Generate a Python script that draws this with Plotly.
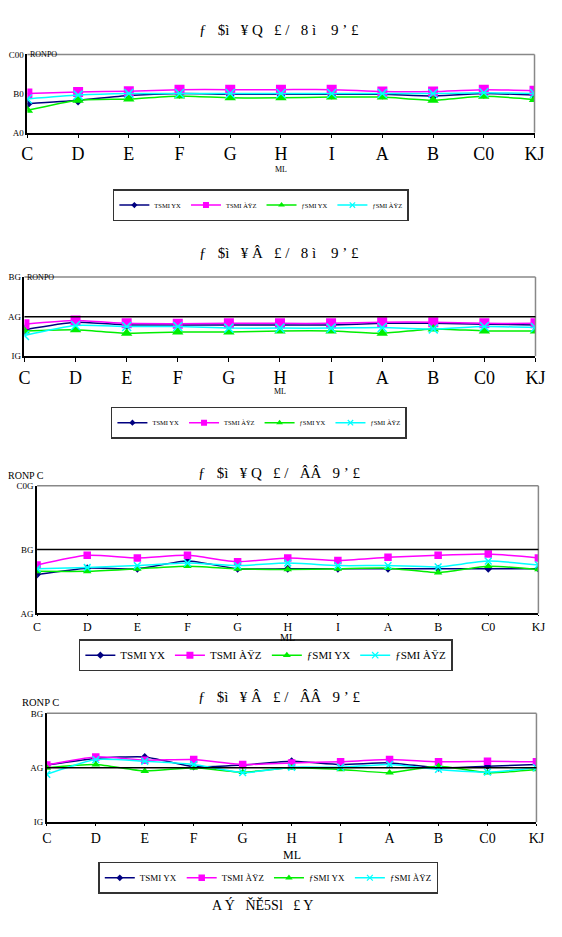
import plotly.graph_objects as go

W, H = 562, 937

categories = ["C", "D", "E", "F", "G", "H", "I", "A", "B", "C0", "KJ"]
series_names = ["TSMI YX", "TSMI ÀŸZ", "ƒSMI YX", "ƒSMI ÀŸZ"]

p1_s1 = [87.4, 88.3, 89.5, 90.0, 89.8, 89.8, 89.8, 89.8, 89.4, 90.0, 89.6]
p1_s2 = [90.0, 90.4, 90.6, 91.0, 91.0, 91.0, 91.0, 90.5, 90.5, 91.0, 90.7]
p1_s3 = [85.7, 88.3, 88.6, 89.4, 88.9, 88.9, 89.1, 89.1, 88.3, 89.3, 88.5]
p1_s4 = [88.6, 89.6, 90.0, 90.0, 90.0, 90.0, 90.0, 90.0, 90.0, 90.2, 90.0]

p2_s1 = [81.7, 83.6, 82.9, 82.9, 82.9, 82.9, 82.9, 83.3, 83.3, 83.1, 82.9]
p2_s2 = [83.1, 84.0, 83.3, 83.2, 83.3, 83.3, 83.3, 83.6, 83.6, 83.3, 83.3]
p2_s3 = [81.4, 81.7, 80.8, 81.1, 81.1, 81.4, 81.4, 80.8, 81.9, 81.4, 81.4]
p2_s4 = [80.25, 82.75, 82.5, 82.5, 82.1, 82.1, 82.1, 82.25, 81.9, 82.5, 82.25]

p3_s1 = [91.1, 92.1, 92.0, 93.2, 92.0, 92.0, 92.0, 92.0, 92.0, 92.0, 92.0]
p3_s2 = [92.6, 94.1, 93.7, 94.1, 93.1, 93.7, 93.3, 93.8, 94.1, 94.3, 93.7]
p3_s3 = [91.6, 91.6, 92.0, 92.4, 92.0, 91.9, 92.0, 92.1, 91.4, 92.4, 91.9]
p3_s4 = [92.0, 92.2, 92.5, 92.9, 92.5, 92.9, 92.5, 92.5, 92.3, 93.2, 92.6]

p4_s1 = [85.5, 86.7, 87.0, 85.2, 85.5, 86.2, 85.6, 85.9, 85.0, 85.3, 85.6]
p4_s2 = [85.5, 87.0, 86.4, 86.5, 85.6, 85.9, 86.1, 86.5, 86.1, 86.2, 86.1]
p4_s3 = [85.0, 85.6, 84.4, 85.0, 84.2, 85.0, 84.7, 84.1, 85.3, 84.1, 84.7]
p4_s4 = [83.8, 86.5, 86.2, 85.6, 84.1, 85.1, 85.1, 85.6, 84.7, 84.2, 85.0]

titles = ["ƒ   $ì   ¥ Q   £ /   8 ì    9 ʼ £",
          "ƒ   $ì   ¥ Â   £ /   8 ì    9 ʼ £",
          "ƒ   $ì   ¥ Q   £ /   ÂÂ   9 ʼ £",
          "ƒ   $ì   ¥ Â   £ /   ÂÂ   9 ʼ £"]
y_ticks = [[80, 90, 100], [75, 85, 95], [85, 95, 105], [75, 85, 95]]
y_ticktext = [["A0", "B0", "C00"], ["IG", "AG", "BG"], ["AG", "BG", "C0G"], ["IG", "AG", "BG"]]
ref_lines = [None, 85, 95, 85]
unit_labels = ["RONPO", "RONPO", "RONP C", "RONP C"]
x_title = "ML"
caption = "A Ý   ŇĚ5Sl   £ Y"

panels = [
    dict(data=[p1_s1, p1_s2, p1_s3, p1_s4], box=(22, 544, 50, 129), title_y=25,
         tick_font=18, ticklen=4, ms=1.0, xt_y=166, xt_font=8, leg=(186, 110), leg_font=6.5,
         unit=(24, 50, 8), lms=0.6),
    dict(data=[p2_s1, p2_s2, p2_s3, p2_s4], box=(19, 545, 275, 355), title_y=251,
         tick_font=18, ticklen=4, ms=1.0, xt_y=391, xt_font=8, leg=(406, 108), leg_font=6.5,
         unit=(21, 275, 8), lms=0.6),
    dict(data=[p3_s1, p3_s2, p3_s3, p3_s4], box=(32, 548, 486, 615), title_y=473,
         tick_font=12, ticklen=1, ms=0.75, xt_y=639, xt_font=10, leg=(641, 75), leg_font=11,
         unit=(1, 476, 10), lms=0.7),
    dict(data=[p4_s1, p4_s2, p4_s3, p4_s4], box=(42, 546, 716, 826), title_y=699,
         tick_font=14, ticklen=2, ms=0.75, xt_y=859, xt_font=12, leg=(866, 95), leg_font=9,
         unit=(15, 705, 10.5), lms=0.65),
]

colors = ["#000080", "#FF00FF", "#00EE00", "#00FFFF"]
symbols = ["diamond", "square", "triangle-up", "x-thin-open"]
base_sizes = [8, 10, 10, 9]

serif = "Liberation Serif"
fig = go.Figure()
annotations = []
shapes = []
layout_axes = {}

for i, p in enumerate(panels):
    k = "" if i == 0 else str(i + 1)
    xa, ya = "x" + k, "y" + k
    left, right, top, bottom = p["box"]
    legname = "legend" + k
    for j in range(4):
        sym = symbols[j]
        fig.add_trace(go.Scatter(
            x=list(range(1, len(categories) + 1)), y=p["data"][j],
            mode="lines+markers", name=series_names[j],
            line=dict(color=colors[j], width=1.5, shape="spline", smoothing=0.6),
            marker=dict(symbol=sym, size=base_sizes[j] * p["ms"], color=colors[j],
                        line=dict(color=colors[j], width=1.5 if "x" in sym else 0)),
            xaxis=xa, yaxis=ya, showlegend=False))
    for j in range(4):
        sym = symbols[j]
        fig.add_trace(go.Scatter(
            x=[None], y=[None], mode="lines+markers", name=series_names[j],
            line=dict(color=colors[j], width=1.5),
            marker=dict(symbol=sym, size=base_sizes[j] * p["lms"], color=colors[j],
                        line=dict(color=colors[j], width=1.2 if "x" in sym else 0)),
            xaxis=xa, yaxis=ya, legend=legname, showlegend=True))
    layout_axes["xaxis" + k] = dict(
        domain=[left / W, right / W], anchor=ya, range=[1, len(categories)],
        tickvals=list(range(1, len(categories) + 1)), ticktext=categories,
        showline=True, linecolor="black", linewidth=1.5, ticks="outside", ticklen=p["ticklen"],
        tickcolor="black", showgrid=False, zeroline=False,
        tickfont=dict(family=serif, size=p["tick_font"], color="black"))
    layout_axes["yaxis" + k] = dict(
        domain=[1 - bottom / H, 1 - top / H], anchor=xa,
        range=[y_ticks[i][0], y_ticks[i][-1]],
        tickvals=y_ticks[i], ticktext=y_ticktext[i],
        showline=True, linecolor="black", linewidth=1.5, showgrid=False, zeroline=False,
        ticks="", tickfont=dict(family=serif, size=9, color="black"))
    shapes.append(dict(type="line", xref=xa + " domain", yref=ya + " domain",
                       x0=0, x1=1, y0=1, y1=1, line=dict(color="#888888", width=1.5)))
    shapes.append(dict(type="line", xref=xa + " domain", yref=ya + " domain",
                       x0=1, x1=1, y0=0, y1=1, line=dict(color="#888888", width=1.5)))
    if ref_lines[i] is not None:
        shapes.append(dict(type="line", xref=xa + " domain", yref=ya,
                           x0=0, x1=1, y0=ref_lines[i], y1=ref_lines[i],
                           line=dict(color="black", width=1.5)))
    annotations.append(dict(text=titles[i], xref="paper", yref="paper",
                            x=0.5, y=1 - p["title_y"] / H, showarrow=False,
                            font=dict(family=serif, size=15, color="black"),
                            xanchor="center", yanchor="middle"))
    ux, uy, ufs = p["unit"]
    annotations.append(dict(text=unit_labels[i], xref="paper", yref="paper",
                            x=ux / W, y=1 - uy / H, showarrow=False,
                            font=dict(family=serif, size=ufs, color="black"),
                            xanchor="left", yanchor="middle", borderpad=0))
    annotations.append(dict(text=x_title, xref="paper", yref="paper",
                            x=(left + right) / 2 / W, y=1 - p["xt_y"] / H, showarrow=False,
                            font=dict(family=serif, size=p["xt_font"], color="black"),
                            xanchor="center", yanchor="middle"))
    ly, lx = p["leg"]
    layout_axes[legname] = dict(
        x=lx / W, y=1 - ly / H, xanchor="left", yanchor="top", orientation="h",
        bordercolor="#333333", borderwidth=1.5, bgcolor="white",
        font=dict(family=serif, size=p["leg_font"], color="black"),
        itemwidth=30, tracegroupgap=0, itemclick=False)

annotations.append(dict(text=caption, xref="paper", yref="paper",
                        x=264 / W, y=1 - 910 / H, showarrow=False,
                        font=dict(family=serif, size=14, color="black"),
                        xanchor="center", yanchor="middle"))

fig.update_layout(width=W, height=H, margin=dict(l=0, r=0, t=0, b=0),
                  paper_bgcolor="white", plot_bgcolor="white",
                  annotations=annotations, shapes=shapes, **layout_axes)
fig.write_html("out.html")
